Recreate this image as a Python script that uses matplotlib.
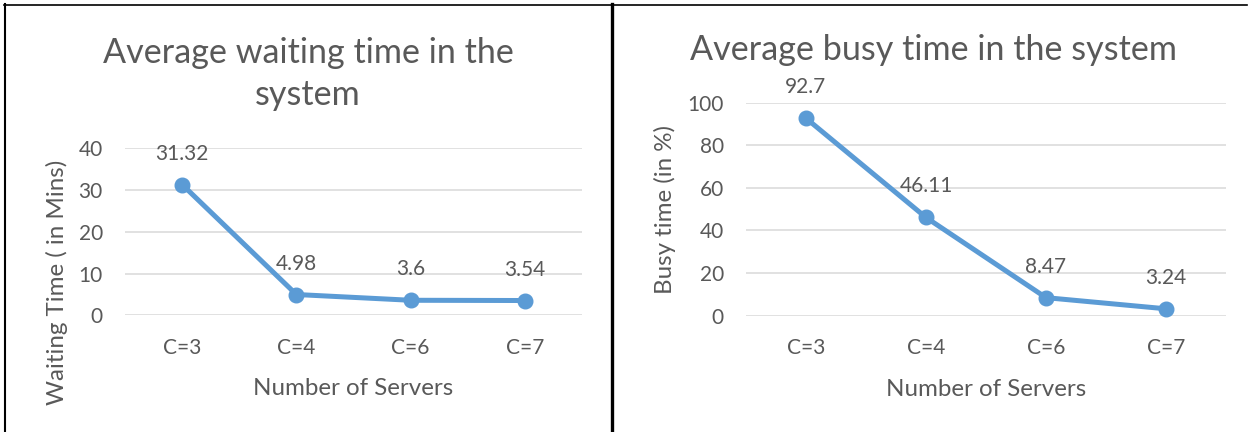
import matplotlib
matplotlib.use("Agg")
import matplotlib.pyplot as plt
from matplotlib.lines import Line2D

categories = ["C=3", "C=4", "C=6", "C=7"]
waiting_time = [31.32, 4.98, 3.6, 3.54]
busy_time = [92.7, 46.11, 8.47, 3.24]
waiting_ticks = [0, 10, 20, 30, 40]
busy_ticks = [0, 20, 40, 60, 80, 100]
waiting_labels = ["31.32", "4.98", "3.6", "3.54"]
busy_labels = ["92.7", "46.11", "8.47", "3.24"]

W, H = 1253, 432
plt.rcParams['font.family'] = ['Lato', 'DejaVu Sans']
TXT = '#595959'
BLUE = '#5B9BD5'
GRID = '#D9D9D9'

fig = plt.figure(figsize=(W / 100, H / 100), dpi=100)
fig.patch.set_facecolor('white')


def px_axes(x0, y0, x1, y1):
    return fig.add_axes([x0 / W, 1 - y1 / H, (x1 - x0) / W, (y1 - y0) / H])


def style(ax, ticks, ylim):
    ax.set_xlim(-0.5, len(categories) - 0.5)
    ax.set_ylim(*ylim)
    ax.set_yticks(ticks)
    ax.set_yticklabels([str(t) for t in ticks])
    ax.set_xticks(range(len(categories)))
    ax.set_xticklabels(categories)
    for s in ax.spines.values():
        s.set_visible(False)
    ax.tick_params(axis='both', length=0, labelsize=15, labelcolor=TXT)
    ax.tick_params(axis='y', pad=16)
    ax.tick_params(axis='x', pad=16)
    ax.grid(axis='y', color=GRID, linewidth=1.1)
    ax.set_axisbelow(True)


def plot_series(ax, values, labels):
    x = list(range(len(values)))
    ax.plot(x, values, color=BLUE, linewidth=3.6, marker='o', markersize=10.5,
            solid_capstyle='round', clip_on=False, zorder=3)
    for xi, v, lab in zip(x, values, labels):
        ax.annotate(lab, (xi, v), xytext=(0, 31), textcoords='offset pixels',
                    ha='center', va='center', fontsize=15, color=TXT)


# Left chart
ax1 = px_axes(125, 148.3, 582, 315.3)
style(ax1, waiting_ticks, (0, 40))
plot_series(ax1, waiting_time, waiting_labels)
ax1.set_xlabel("Number of Servers", fontsize=17.4, color=TXT, labelpad=15)
fig.text(57 / W, 1 - 282 / H, "Waiting Time ( in Mins)", rotation=90,
         ha='center', va='center', fontsize=17.4, color=TXT)
fig.text(308 / W, 1 - 105 / H, "Average waiting time in the\nsystem",
         ha='center', va='baseline', fontsize=24.6, color=TXT, linespacing=1.37)

# Right chart
ax2 = px_axes(746, 102.7, 1226, 315.7)
style(ax2, busy_ticks, (0, 100))
plot_series(ax2, busy_time, busy_labels)
ax2.set_xlabel("Number of Servers", fontsize=17.4, color=TXT, labelpad=15)
fig.text(665 / W, 1 - 209 / H, "Busy time (in %)", rotation=90,
         ha='center', va='center', fontsize=17.4, color=TXT)
fig.text(934 / W, 1 - 60.5 / H, "Average busy time in the system",
         ha='center', va='baseline', fontsize=24.6, color=TXT)

# Borders
fig.add_artist(Line2D([4 / W, 1247 / W], [1 - 4.5 / H, 1 - 4.5 / H],
                      color='black', linewidth=1.2, transform=fig.transFigure))
fig.add_artist(Line2D([4.5 / W, 4.5 / W], [1 - 4 / H, 0],
                      color='black', linewidth=1.5, transform=fig.transFigure))
fig.add_artist(Line2D([611.5 / W, 611.5 / W], [1 - 4 / H, 0],
                      color='black', linewidth=2.4, transform=fig.transFigure))

fig.savefig("out.png", dpi=100)
